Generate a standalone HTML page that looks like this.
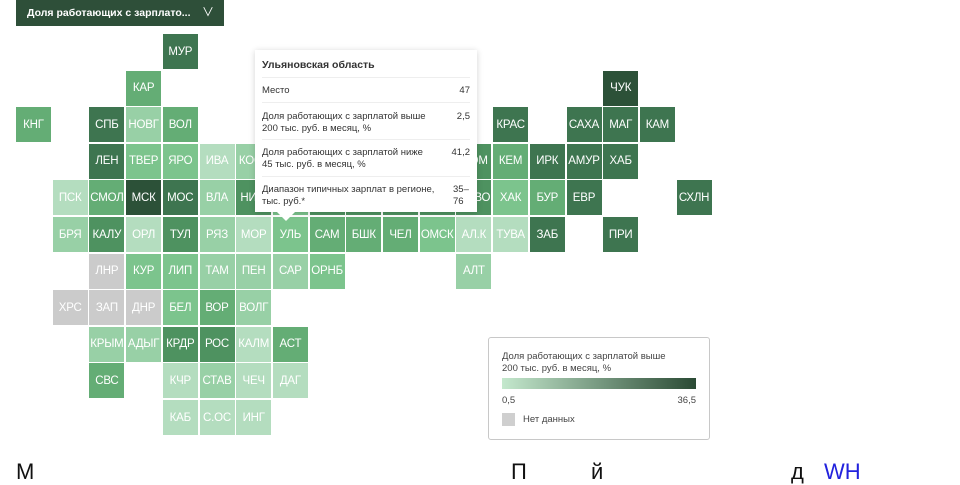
<!DOCTYPE html>
<html><head><meta charset="utf-8"><style>
body{margin:0;width:960px;height:475px;overflow:hidden;background:#fff;font-family:"Liberation Sans","Noto Sans CJK SC",sans-serif;position:relative}
.c{position:absolute;width:35px;height:35px;color:#fff;font-size:11.5px;display:flex;align-items:center;justify-content:center;letter-spacing:-0.2px;white-space:nowrap;overflow:hidden}
.dd{position:absolute;left:16px;top:0;width:208px;height:26px;background:#2e4f39;color:#fff;font-size:10.5px;font-weight:bold;line-height:26px;padding-left:11px;box-sizing:border-box;white-space:nowrap}
.tt{position:absolute;left:255px;top:50px;width:222px;height:162px;background:#fff;box-shadow:0 1px 6px rgba(0,0,0,.18);font-size:9.5px;color:#333}
.tt .r{position:absolute;left:7px;right:7px;border-top:1px solid #eee;line-height:12px}
.tt .v{position:absolute;right:0;top:0}
.lg{position:absolute;left:488px;top:337px;width:222px;height:103px;border:1px solid #c8c8c8;border-radius:3px;box-sizing:border-box;font-size:9.5px;color:#444}
</style></head><body>
<div class="dd">Доля работающих с зарплато...<span style="position:absolute;left:186px;top:-1px;font-weight:normal;font-size:12px">&#8744;</span></div>
<div id="g"></div>
<div class="tt">
<div style="position:absolute;left:7px;top:9px;font-weight:bold;font-size:10.5px;color:#333">Ульяновская область</div>
<div class="r" style="top:27px;padding-top:7px">Место<span class="v" style="top:7px">47</span></div>
<div class="r" style="top:52px;padding-top:8px">Доля работающих с зарплатой выше<br>200 тыс. руб. в месяц, %<span class="v" style="top:8px">2,5</span></div>
<div class="r" style="top:89px;padding-top:7px">Доля работающих с зарплатой ниже<br>45 тыс. руб. в месяц, %<span class="v" style="top:7px">41,2</span></div>
<div class="r" style="top:126px;padding-top:7px">Диапазон типичных зарплат в регионе,<br>тыс. руб.*<span class="v" style="top:7px;right:-3px;width:20px">35–<br>76</span></div>
<div style="position:absolute;left:22px;top:162px;width:0;height:0;border-left:9px solid transparent;border-right:9px solid transparent;border-top:9px solid #fff"></div>
</div>
<div class="lg">
<div style="position:absolute;left:13px;top:13px;line-height:12px">Доля работающих с зарплатой выше<br>200 тыс. руб. в месяц, %</div>
<div style="position:absolute;left:13px;top:40px;width:194px;height:11px;background:linear-gradient(to right,#c4e8cd,#2a4a34)"></div>
<div style="position:absolute;left:13px;top:57px">0,5</div>
<div style="position:absolute;right:13px;top:57px">36,5</div>
<div style="position:absolute;left:13px;top:75px;width:13px;height:13px;background:#cfcfcf"></div>
<div style="position:absolute;left:34px;top:76px">Нет данных</div>
</div>
<div style="position:absolute;left:16px;top:459px;font-size:22px;color:#111;white-space:nowrap">М<span style="position:absolute;left:495px">П</span><span style="position:absolute;left:575px">й</span><span style="position:absolute;left:775px">д</span><span style="position:absolute;left:808px;color:#2222dd">WH</span></div>
<script>
const D0='#2c5138',D='#3e7550',M='#4e9260',L1='#64ad75',L2='#7cc48d',L3='#98d0a6',L4='#b4ddbf',G='#cbcbcb';
const cells=[
[0,4,'МУР',D],
[1,3,'КАР',L1],[1,16,'ЧУК',D0],
[2,0,'КНГ',L1],[2,2,'СПБ',D],[2,3,'НОВГ',L3],[2,4,'ВОЛ',L1],[2,13,'КРАС',D],[2,15,'САХА',D],[2,16,'МАГ',D],[2,17,'КАМ',D],
[3,2,'ЛЕН',D],[3,3,'ТВЕР',L2],[3,4,'ЯРО',L2],[3,5,'ИВА',L4],[3,6,'КОСТ',L3],[3,7,'',L2],[3,8,'',L2],[3,9,'',L1],[3,10,'',L1],[3,11,'',M],[3,12,'ТЮМ',M],[3,13,'КЕМ',L1],[3,14,'ИРК',D],[3,15,'АМУР',D],[3,16,'ХАБ',D],
[4,1,'ПСК',L4],[4,2,'СМОЛ',L1],[4,3,'МСК',D0],[4,4,'МОС',D],[4,5,'ВЛА',L3],[4,6,'НИЖ',M],[4,7,'',L2],[4,8,'',M],[4,9,'',M],[4,10,'',M],[4,11,'',M],[4,12,'НОВО',M],[4,13,'ХАК',L2],[4,14,'БУР',L1],[4,15,'ЕВР',D],[4,18,'СХЛН',D],
[5,1,'БРЯ',L3],[5,2,'КАЛУ',M],[5,3,'ОРЛ',L4],[5,4,'ТУЛ',M],[5,5,'РЯЗ',L3],[5,6,'МОР',L4],[5,7,'УЛЬ',L2],[5,8,'САМ',L1],[5,9,'БШК',L1],[5,10,'ЧЕЛ',L1],[5,11,'ОМСК',L2],[5,12,'АЛ.К',L4],[5,13,'ТУВА',L4],[5,14,'ЗАБ',D],[5,16,'ПРИ',D],
[6,2,'ЛНР',G],[6,3,'КУР',L2],[6,4,'ЛИП',L2],[6,5,'ТАМ',L3],[6,6,'ПЕН',L3],[6,7,'САР',L3],[6,8,'ОРНБ',L2],[6,12,'АЛТ',L3],
[7,1,'ХРС',G],[7,2,'ЗАП',G],[7,3,'ДНР',G],[7,4,'БЕЛ',L2],[7,5,'ВОР',L1],[7,6,'ВОЛГ',L3],
[8,2,'КРЫМ',L3],[8,3,'АДЫГ',L3],[8,4,'КРДР',M],[8,5,'РОС',M],[8,6,'КАЛМ',L4],[8,7,'АСТ',L1],
[9,2,'СВС',L1],[9,4,'КЧР',L4],[9,5,'СТАВ',L3],[9,6,'ЧЕЧ',L4],[9,7,'ДАГ',L4],
[10,4,'КАБ',L4],[10,5,'С.ОС',L4],[10,6,'ИНГ',L4]];
let h='';
for(const [r,c,t,col] of cells){h+=`<div class="c" style="left:${(16+c*36.7).toFixed(1)}px;top:${(34+r*36.6).toFixed(1)}px;background:${col}">${t}</div>`}
document.getElementById('g').innerHTML=h;
</script>
</body></html>
